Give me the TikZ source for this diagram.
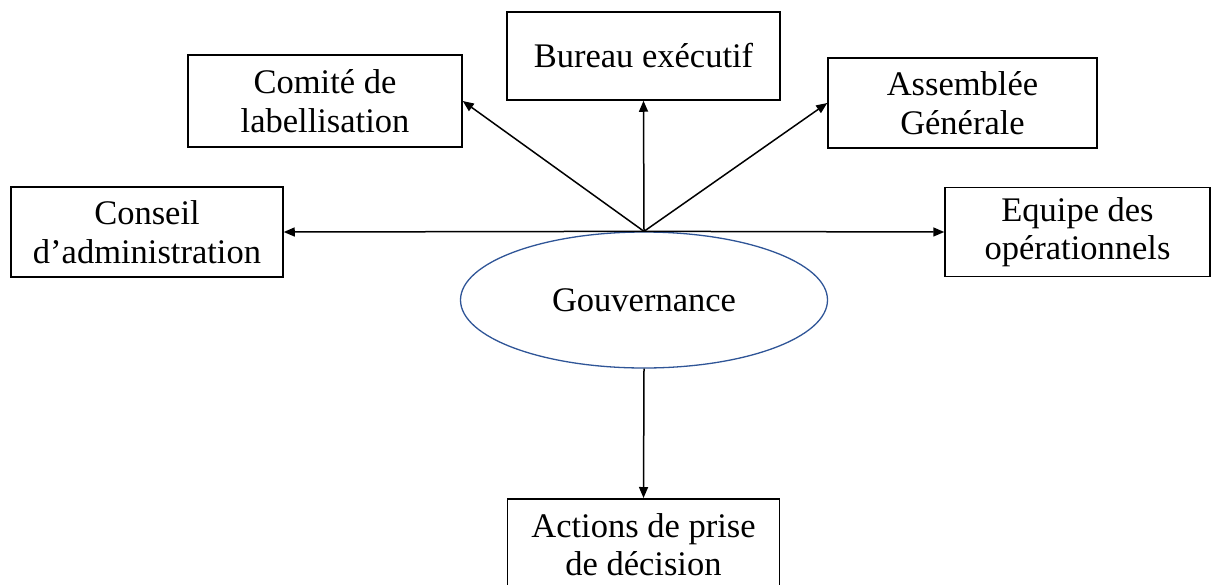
\documentclass[tikz,border=0pt]{standalone}
\usepackage{fontspec}
\setmainfont{Liberation Serif}
\usetikzlibrary{arrows.meta,shapes.geometric}
\definecolor{ellblue}{RGB}{47,85,151}
\begin{document}
\begin{tikzpicture}[x=1pt,y=-1pt,
  box/.style={draw=black,line width=1.5pt,rectangle,align=center,inner sep=0pt,
    font=\fontsize{34.5}{38.5}\selectfont},
  gov/.style={draw=ellblue,line width=1.3pt,ellipse,inner sep=0pt,
    minimum width=367pt,minimum height=136pt,font=\fontsize{34.5}{38.5}\selectfont},
  conn/.style={line width=1.5pt,-{Triangle[length=11pt,width=9pt]}}]
\useasboundingbox (0,0) rectangle (1212,584);
\node[box,minimum width=274pt,minimum height=92pt] (comite) at (325,101) {Comité de\\labellisation};
\node[box,minimum width=273pt,minimum height=88pt] (bureau) at (643.5,56) {Bureau exécutif};
\node[box,minimum width=269pt,minimum height=90pt] (assemblee) at (962.5,103) {Assemblée\\Générale};
\node[box,minimum width=272pt,minimum height=90pt] (conseil) at (147,232) {Conseil\\d’administration};
\node[box,minimum width=265pt,minimum height=89pt] (equipe) at (1077.5,232) {Equipe des\\opérationnels};
\node[gov] (gouv) at (644,300) {Gouvernance};
\node[box,minimum width=272pt,minimum height=92pt,anchor=north] (actions) at (643.5,498) {Actions de prise\\de décision};
\coordinate (hub) at (gouv.north);
\draw[conn] (hub) -- (comite.east);
\draw[conn] (hub) -- (bureau.south);
\draw[conn] (hub) -- (assemblee.west);
\draw[conn] (hub) -- (conseil.east);
\draw[conn] (hub) -- (equipe.west);
\draw[conn] (gouv.south) -- (actions.north);
\end{tikzpicture}
\end{document}
